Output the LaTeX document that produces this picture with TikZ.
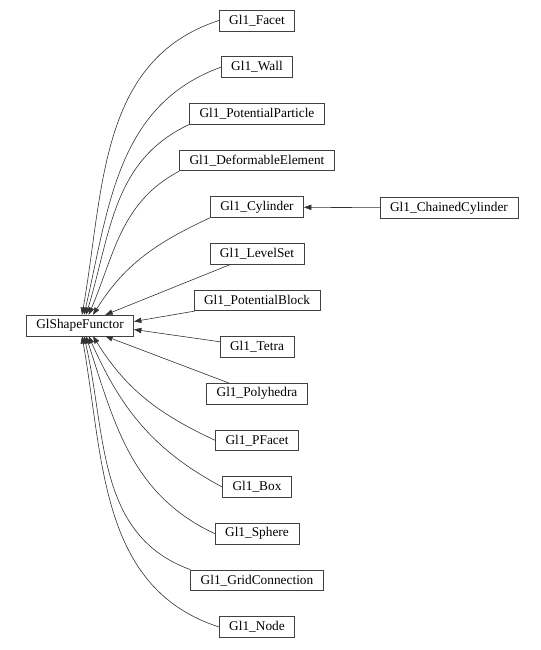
\documentclass[tikz,border=0pt]{standalone}
\usepackage{fontspec}
\setmainfont{Liberation Serif}
\usetikzlibrary{arrows.meta}

\tikzset{
  cls/.style={draw=black!75, line width=0.5pt, rectangle, minimum height=15.5pt,
    inner xsep=7.5pt, inner ysep=0pt, font=\fontsize{10}{12}\selectfont},
  inh/.style={draw=black!80, line width=0.45pt, -{Triangle[length=5.5pt,width=4pt]}}
}

\begin{document}
\begin{tikzpicture}[x=0.75pt, y=-0.75pt]

    \useasboundingbox (0,0) rectangle (541,650);

    % Base class
    \node[cls] (gsf) at (80,325.5) {GlShapeFunctor};

    % Derived classes, one column
    \foreach \n/\t [count=\i from 0] in {facet/Facet, wall/Wall,
        pparticle/PotentialParticle, deformable/DeformableElement,
        cylinder/Cylinder, levelset/LevelSet, pblock/PotentialBlock,
        tetra/Tetra, polyhedra/Polyhedra, pfacet/PFacet, box/Box,
        sphere/Sphere, grid/GridConnection, gnode/Node} {
        \node[cls] (\n) at (257,20.5+46.65*\i) {Gl1\_\t};
    }

    \node[cls] (chained) at (449,208) {Gl1\_ChainedCylinder};

    % Inheritance edges, upper half
    \foreach \n/\s/\dx/\o/\a in {facet/west/1.5/198/80, wall/west/3/200/77,
        pparticle/south west/4.5/205/73, deformable/south west/6.5/208/67,
        cylinder/south west/9.75/205/58} {
        \draw[inh] (\n.\s) to[out=\o,in=\a] ([xshift=\dx pt]gsf.north);
    }
    \draw[inh] (levelset) -- ([xshift=19pt]gsf.north);
    \draw[inh] (pblock) -- ([yshift=3pt]gsf.east);

    % Inheritance edges, lower half
    \draw[inh] (tetra) -- ([yshift=-3pt]gsf.east);
    \draw[inh] (polyhedra) -- ([xshift=19pt]gsf.south);
    \foreach \n/\s/\dx/\o/\a in {gnode/west/1.5/162/-80, grid/north west/3/160/-77,
        sphere/west/4.5/155/-72, box/west/6.5/152/-66,
        pfacet/west/9.75/155/-58} {
        \draw[inh] (\n.\s) to[out=\o,in=\a] ([xshift=\dx pt]gsf.south);
    }

    \draw[inh] (chained) -- (cylinder);

\end{tikzpicture}
\end{document}
